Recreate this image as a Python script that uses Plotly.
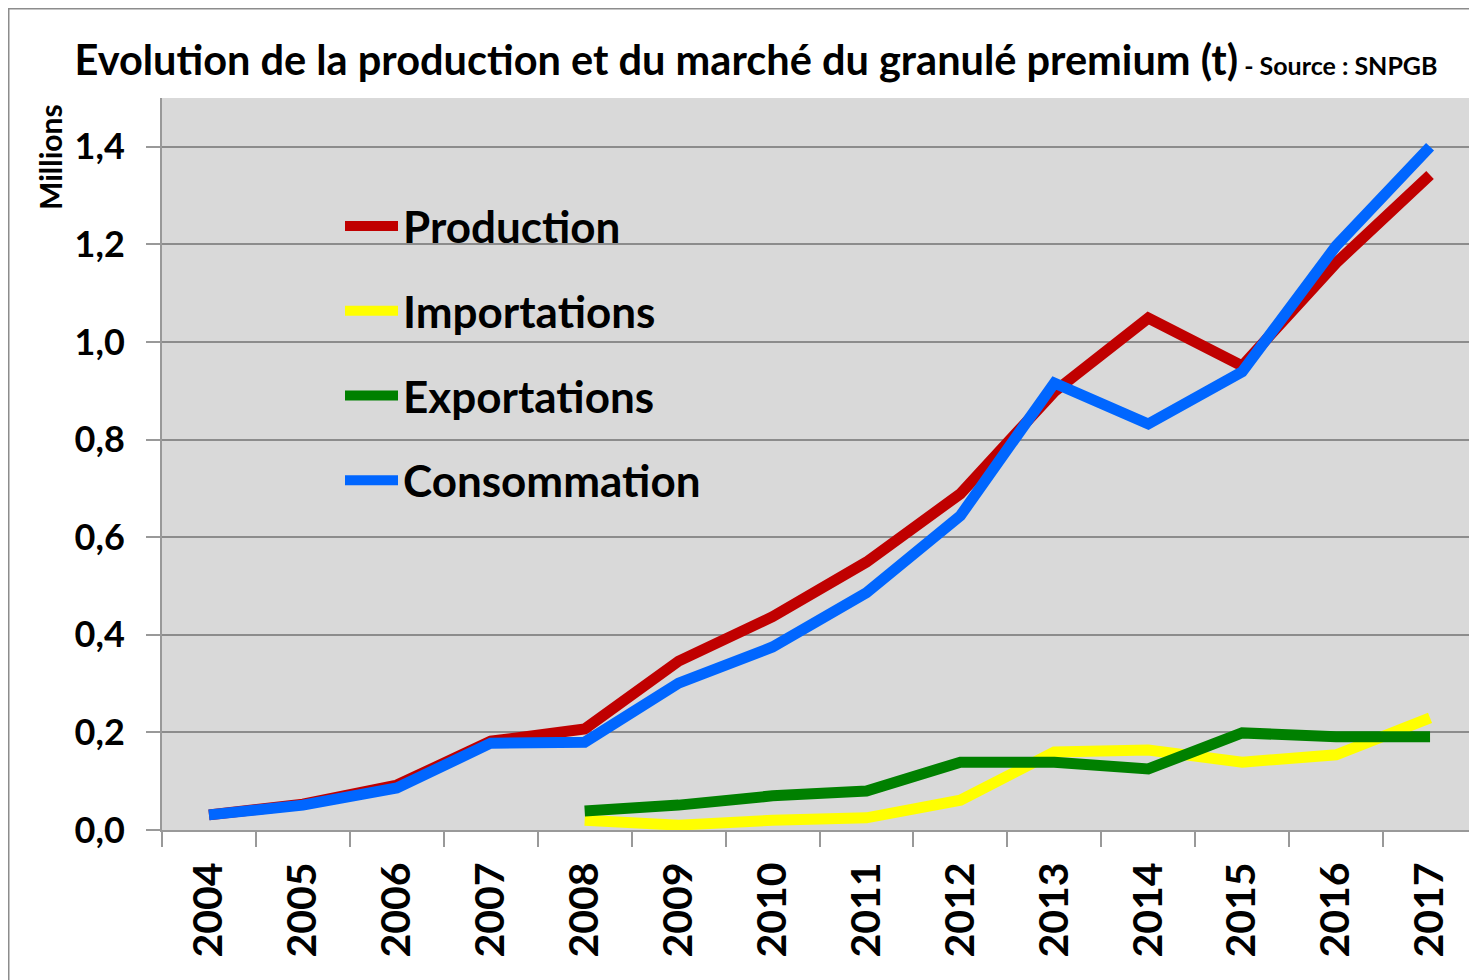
import plotly.graph_objects as go

years = ["2004", "2005", "2006", "2007", "2008", "2009", "2010", "2011",
         "2012", "2013", "2014", "2015", "2016", "2017"]
production = [0.031, 0.053, 0.092, 0.182, 0.207, 0.346, 0.437, 0.549,
              0.689, 0.898, 1.049, 0.951, 1.162, 1.342]
importations = [None, None, None, None, 0.020, 0.010, 0.020, 0.025,
                0.061, 0.160, 0.164, 0.139, 0.154, 0.230]
exportations = [None, None, None, None, 0.039, 0.051, 0.070, 0.080,
                0.139, 0.139, 0.125, 0.199, 0.191, 0.191]
consommation = [0.031, 0.051, 0.086, 0.178, 0.180, 0.301, 0.375, 0.486,
                0.644, 0.916, 0.832, 0.939, 1.197, 1.400]
y_ticks = [0, 0.2, 0.4, 0.6, 0.8, 1.0, 1.2, 1.4]

FONT = "Lato"
series = [
    ("Production", production, "#c00000"),
    ("Importations", importations, "#ffff00"),
    ("Exportations", exportations, "#008000"),
    ("Consommation", consommation, "#0066ff"),
]

fig = go.Figure()
for i, (name, vals, col) in enumerate(series):
    fig.add_trace(go.Scatter(
        x=years, y=vals, name=name, mode="lines",
        line=dict(color=col, width=11), legendgroup=str(i),
        connectgaps=False,
    ))

# page body has an 8px margin
OFF = 8
W, H = 1477 - OFF, 980 - OFF
PL, PT, PB = 162, 98, 830          # plot area edges in page pixels
L, T = PL - OFF, PT - OFF
B = H - (PB - OFF)
pw = W - L
ph = H - T - B

fig.update_layout(
    width=W, height=H,
    margin=dict(l=L, r=0, t=T, b=B, pad=0, autoexpand=False),
    paper_bgcolor="white",
    plot_bgcolor="#d9d9d9",
    separators=",.",
    font=dict(family=FONT, color="black"),
    showlegend=True,
    legend=dict(
        x=(340 - PL) / pw, y=(PB - 191) / ph, xanchor="left", yanchor="top",
        bgcolor="rgba(0,0,0,0)", font=dict(size=44, family=FONT, color="black",
                                           weight="bold"),
        tracegroupgap=24.5, itemwidth=53,
    ),
    title=dict(
        text="<b>Evolution de la production et du marché du granulé premium (t)</b>"
             "<span style='font-size:25px'><b> - Source : SNPGB</b></span>",
        x=(756 - OFF) / W, xanchor="center", xref="container",
        y=1 - (60 - OFF) / H, yanchor="middle", yref="container",
        font=dict(size=41.5, family=FONT, color="black"),
    ),
    xaxis=dict(
        type="category", range=[-0.5, 13.5], autorange=False,
        tickangle=-90, ticks="outside", ticklen=15,
        tickcolor="#999999", tickwidth=2, tickson="boundaries",
        showline=True, linecolor="#999999", linewidth=2,
        showgrid=False, ticklabelstandoff=14, automargin=False,
        tickfont=dict(size=41, family=FONT, color="black", weight="bold"),
    ),
    yaxis=dict(
        range=[0, 1.5], tickvals=y_ticks, tickformat=".1f",
        ticks="outside", ticklen=14, tickcolor="#999999", tickwidth=2,
        showline=True, linecolor="#999999", linewidth=2,
        showgrid=True, gridcolor="#8c8c8c", gridwidth=1.5,
        zeroline=False, ticklabelstandoff=14, automargin=False,
        tickfont=dict(size=36, family=FONT, color="black", weight="bold"),
    ),
)

fig.add_annotation(
    text="<b>Millions</b>", textangle=-90, showarrow=False,
    xref="paper", yref="paper", x=(50 - PL) / pw, y=(PB - 157) / ph,
    xanchor="center", yanchor="middle",
    font=dict(size=30, family=FONT, color="black"),
)

fig.add_shape(
    type="rect", xref="paper", yref="paper",
    x0=(0.75 - L) / pw, x1=(W + 20 - L) / pw,
    y0=(PB - 980 - 20) / ph, y1=(PB - OFF - 0.75) / ph,
    line=dict(color="#8c8c8c", width=1.5), fillcolor="rgba(0,0,0,0)",
    layer="above",
)

fig.write_html("out.html")
